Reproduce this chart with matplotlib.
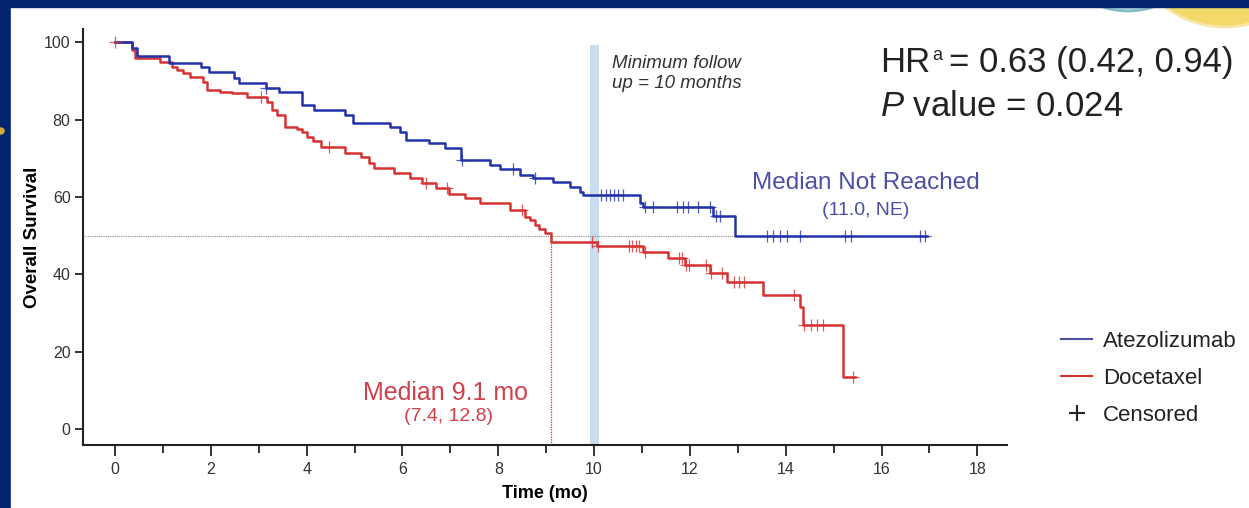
import numpy as np
import matplotlib
matplotlib.use("Agg")
import matplotlib.pyplot as plt
from matplotlib.lines import Line2D
from matplotlib.patches import Rectangle, Circle

plt.rcParams['font.family'] = ['Liberation Sans', 'DejaVu Sans']
plt.rcParams['mathtext.fontset'] = 'custom'
plt.rcParams['mathtext.rm'] = 'Liberation Sans'
plt.rcParams['mathtext.it'] = 'Liberation Sans:italic'

# Kaplan-Meier steps: event time (months) and survival (%) right after it
atezo_t = [0, 0.36, 0.46, 1.13, 1.80, 1.97, 2.49, 2.59, 3.16, 3.43, 3.91, 4.16,
           4.79, 4.96, 5.73, 5.94, 6.08, 6.56, 6.88, 7.23, 7.82, 8.03, 8.45,
           8.72, 9.14, 9.49, 9.70, 9.76, 10.96, 11.02, 12.48, 12.94]
atezo_s = [100, 98.5, 96.4, 94.6, 93.5, 92.2, 90.7, 89.4, 88.1, 87.1, 83.7, 82.4,
           81.1, 79.1, 78.0, 76.7, 74.7, 73.9, 72.6, 69.5, 68.2, 67.2, 65.6,
           64.9, 63.8, 62.5, 61.2, 60.5, 58.4, 57.4, 55.0, 50.0]
atezo_end = 16.96
atezo_cens = [3.16, 7.25, 8.30, 8.76, 10.15, 10.25, 10.33, 10.42, 10.50, 10.60,
              11.06, 11.23, 11.73, 11.85, 11.96, 12.17, 12.42, 12.55, 12.63,
              13.61, 13.74, 13.88, 14.03, 14.30, 15.24, 15.37, 16.81, 16.91]

doce_t = [0, 0.35, 0.42, 0.94, 1.19, 1.29, 1.42, 1.56, 1.83, 1.92, 2.19, 2.44,
          2.75, 3.17, 3.27, 3.38, 3.54, 3.79, 3.90, 4.00, 4.13, 4.30, 4.79,
          5.14, 5.31, 5.41, 5.83, 6.15, 6.40, 6.69, 6.98, 7.30, 7.61, 8.24,
          8.55, 8.66, 8.76, 8.86, 8.98, 9.10, 10.06, 11.02, 11.54, 11.90,
          12.42, 12.77, 13.52, 14.29, 14.36, 15.20]
doce_s = [100, 97.9, 96.0, 94.8, 93.5, 92.8, 92.0, 91.0, 89.7, 87.6, 87.1, 86.8,
          85.8, 84.5, 82.4, 81.1, 78.0, 77.6, 76.7, 75.5, 74.5, 73.0, 71.3,
          70.3, 68.7, 67.4, 66.1, 64.9, 63.6, 62.3, 60.7, 59.7, 58.4, 56.6,
          54.8, 54.0, 52.7, 51.6, 50.8, 48.3, 47.3, 45.7, 44.2, 42.4,
          40.3, 38.0, 34.6, 31.5, 27.0, 13.5]
doce_end = 15.45
doce_cens = [0.0, 3.05, 4.47, 6.50, 6.93, 8.49, 9.95, 10.08, 10.73, 10.80, 10.88,
             10.94, 11.07, 11.77, 11.83, 11.92, 11.98, 12.33, 12.44, 12.67,
             12.92, 13.03, 13.13, 14.17, 14.38, 14.52, 14.65, 14.77, 15.40]

median_doce = 9.1
min_followup = 10
x_major = np.arange(0, 19, 2)
x_minor = np.arange(1, 19, 2)
y_major = np.arange(0, 101, 20)

NAVY = '#02236e'
BLUE = '#2233aa'
RED = '#d63232'


def km_steps(t, s, end):
    return list(t) + [end], list(s) + [s[-1]]


def level_at(t, s, times):
    idx = np.searchsorted(t, times, side='right') - 1
    return np.asarray(s)[idx]


fig = plt.figure(figsize=(12.49, 5.08), dpi=100)
fig.patch.set_facecolor(NAVY)

# slide background in pixel units
bg = fig.add_axes([0, 0, 1, 1], zorder=-1)
bg.set_xlim(0, 1249)
bg.set_ylim(508, 0)
bg.axis('off')
bg.add_patch(Rectangle((11, 0), 1249, 508, color='white'))
bg.add_patch(Circle((1128, -69), 80, fc='#b8dbe2', ec='#86bcc8', lw=2))
bg.add_patch(Circle((1225, -73), 100, fc='#f2d96a', ec='#f7e7a6', lw=2))
bg.add_patch(Rectangle((0, 0), 1249, 7, color=NAVY))
bg.add_patch(Circle((1, 131), 3, color='#d9a83a'))

ax = fig.add_axes([83 / 1249, 63 / 508, 924 / 1249, 416 / 508])
ax.set_facecolor('none')
ax.set_xlim(-0.67, 18.62)
ax.set_ylim(-4.1, 103.4)

# minimum follow-up marker
ax.fill_betweenx([-4.1, 99.3], min_followup - 0.095, min_followup + 0.095,
                 color='#c9dcf0', lw=0, zorder=1)
ax.hlines(50, -0.67, atezo_end, colors='#8a8a8a', linestyles=(0, (1, 1)),
          lw=0.8, zorder=1)
ax.vlines(median_doce, -4.1, 50, colors=RED, linestyles=(0, (1, 1)),
          lw=0.9, zorder=1)

for t, s, end, cens, col in [(doce_t, doce_s, doce_end, doce_cens, RED),
                             (atezo_t, atezo_s, atezo_end, atezo_cens, BLUE)]:
    xs, ys = km_steps(t, s, end)
    ax.step(xs, ys, where='post', color=col, lw=1.8, zorder=3)
    ax.plot(cens, level_at(t, s, cens), ls='none', marker='+', ms=9,
            mew=0.9, color=col, alpha=0.8, zorder=4)

ax.set_xticks(x_major)
ax.set_xticks(x_minor, minor=True)
ax.set_yticks(y_major)
for side in ['top', 'right']:
    ax.spines[side].set_visible(False)
for side in ['left', 'bottom']:
    ax.spines[side].set_color('#222222')
    ax.spines[side].set_linewidth(1.5)
ax.tick_params(axis='both', which='both', direction='out', width=1.4,
               color='#333333', labelsize=11.5, labelcolor='#333333')
ax.tick_params(axis='x', which='major', length=8, pad=4)
ax.tick_params(axis='x', which='minor', length=6)
ax.tick_params(axis='y', length=6, pad=3)
ax.set_xlabel('Time (mo)', fontsize=13, fontweight='bold', labelpad=6)
ax.set_ylabel('Overall Survival', fontsize=13.5, fontweight='bold', labelpad=2)

# annotations
ax.text(10.38, 96.8, 'Minimum follow\nup = 10 months', fontsize=13.5,
        style='italic', color='#333333', va='top', ha='left', linespacing=1.3)
ax.text(6.9, 9.3, 'Median 9.1 mo', fontsize=18, color='#d0404a',
        ha='center', va='center')
ax.text(6.95, 3.2, '(7.4, 12.8)', fontsize=14, color='#d0404a',
        ha='center', va='center')
ax.text(15.68, 63.6, 'Median Not Reached', fontsize=17.5, color='#4b4fa6',
        ha='center', va='center')
ax.text(15.68, 56.6, '(11.0, NE)', fontsize=14, color='#4b4fa6',
        ha='center', va='center')

bg.text(880, 72, 'HR', fontsize=25, color='#222222', ha='left', va='baseline')
bg.text(932, 60, 'a', fontsize=13, color='#222222', ha='left', va='baseline')
bg.text(949, 72, '= 0.63 (0.42, 0.94)', fontsize=25, color='#222222',
        ha='left', va='baseline')
bg.text(880, 107, r'$\mathit{P}$ value = 0.024', fontsize=25,
        color='#222222', ha='left', va='center')

handles = [Line2D([], [], color='#4b4fa6', lw=1.5),
           Line2D([], [], color=RED, lw=1.5),
           Line2D([], [], ls='none', marker='+', ms=12, mew=1.5, color='#222222')]
fig.legend(handles, ['Atezolizumab', 'Docetaxel', 'Censored'],
           loc='upper left', bbox_to_anchor=(1050 / 1249, 1 - 320 / 508),
           frameon=False, fontsize=16, handlelength=1.4, handletextpad=0.5,
           labelspacing=0.72, borderpad=0, labelcolor='#222222')

fig.savefig('out.png', dpi=100, facecolor=fig.get_facecolor())
